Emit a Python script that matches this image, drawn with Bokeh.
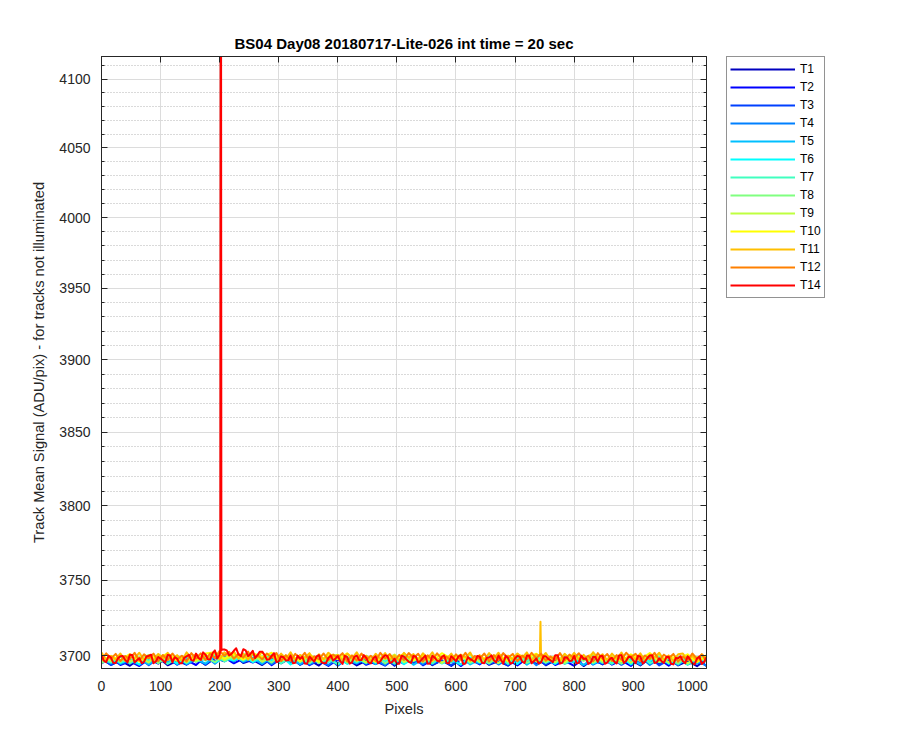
from bokeh.plotting import figure
from bokeh.layouts import row
from bokeh.models import (Range1d, FixedTicker, LinearAxis, LogAxis, Legend, LegendItem,
                          PrintfTickFormatter, CustomJSTickFormatter)
from bokeh.embed import file_html
from bokeh.resources import INLINE

title_text = "BS04 Day08 20180717-Lite-026 int time = 20 sec"
x_label = "Pixels"
y_label = "Track Mean Signal (ADU/pix) - for tracks not illuminated"
x_ticks = [0, 100, 200, 300, 400, 500, 600, 700, 800, 900, 1000]
y_ticks = [3700, 3750, 3800, 3850, 3900, 3950, 4000, 4050, 4100]
y_minor_ticks = [v for v in range(3700, 4120, 10) if v % 50 != 0]

track_names = ["T1", "T2", "T3", "T4", "T5", "T6", "T7", "T8", "T9", "T10", "T11", "T12", "T14"]
track_colors = ["#0000bf", "#0000ff", "#0040ff", "#0080ff", "#00bfff", "#00ffff", "#40ffbf",
                "#80ff80", "#bfff40", "#ffff00", "#ffbf00", "#ff8000", "#ff0000"]

x_fine = list(range(0, 1025, 8))
x_mid = list(range(4, 1021, 8))
x_coarse = list(range(0, 1025, 16))

t1 = [3698.4, 3693.9, 3696.9, 3693.3, 3697.8, 3695.4, 3698.7, 3693.6, 3696.5, 3694.1,
      3698.5, 3693.9, 3698.3, 3696.2, 3700.0, 3695.1, 3697.2, 3693.8, 3698.1, 3694.9,
      3698.5, 3694.0, 3697.0, 3693.4, 3698.8, 3695.1, 3697.5, 3693.5, 3696.7, 3694.4,
      3698.2, 3693.3, 3697.9, 3695.6, 3698.4, 3693.7, 3696.8, 3693.2, 3697.4, 3695.0,
      3698.7, 3693.9, 3696.4, 3693.4, 3698.0, 3694.6, 3698.9, 3693.6, 3697.1, 3695.3,
      3698.3, 3693.1, 3697.6, 3694.2, 3698.6, 3695.7, 3697.2, 3693.5, 3698.1, 3694.8,
      3698.5, 3693.5, 3696.3, 3693.0, 3697.6]
t2 = [3694.9, 3698.6, 3693.8, 3696.2, 3693.1, 3697.7, 3694.7, 3698.5, 3694.0, 3697.0,
      3693.8, 3699.5, 3696.1, 3698.8, 3694.9, 3698.0, 3695.4, 3698.9, 3693.7, 3698.1,
      3695.6, 3698.4, 3693.7, 3696.8, 3693.2, 3697.4, 3695.0, 3698.7, 3693.9, 3696.4,
      3693.4, 3698.0, 3694.6, 3698.9, 3693.6, 3697.1, 3695.3, 3698.3, 3693.1, 3697.6,
      3694.2, 3698.6, 3695.7, 3697.2, 3693.5, 3698.1, 3694.8, 3698.8, 3693.8, 3696.6,
      3693.3, 3697.9, 3694.5, 3698.4, 3694.0, 3696.9, 3693.2, 3698.5, 3695.2, 3697.7,
      3693.4, 3697.9, 3694.6, 3698.6, 3693.1]
t3 = [3697.8, 3693.8, 3697.0, 3694.7, 3698.5, 3693.6, 3698.2, 3695.9, 3698.7, 3694.0,
      3697.5, 3694.2, 3698.7, 3696.6, 3700.4, 3695.5, 3697.7, 3694.4, 3698.7, 3695.1,
      3699.2, 3693.9, 3697.4, 3695.6, 3698.6, 3693.4, 3697.9, 3694.5, 3698.9, 3696.0,
      3697.5, 3693.8, 3698.4, 3695.1, 3699.1, 3694.1, 3696.9, 3693.6, 3698.2, 3694.8,
      3698.7, 3694.3, 3697.2, 3693.5, 3698.8, 3695.5, 3698.0, 3694.0, 3698.5, 3695.2,
      3699.2, 3693.7, 3696.6, 3694.6, 3698.3, 3693.9, 3697.7, 3695.8, 3699.0, 3693.5,
      3697.0, 3693.9, 3698.3, 3694.7, 3698.6]
t4 = [3695.5, 3699.2, 3694.4, 3696.9, 3693.9, 3698.5, 3695.1, 3699.4, 3694.1, 3697.6,
      3696.2, 3699.5, 3694.6, 3699.4, 3696.1, 3700.4, 3697.2, 3698.4, 3694.4, 3698.8,
      3695.3, 3699.3, 3694.3, 3697.1, 3693.8, 3698.4, 3695.0, 3698.9, 3694.5, 3697.4,
      3693.7, 3699.0, 3695.7, 3698.2, 3694.2, 3698.7, 3695.4, 3699.4, 3693.9, 3696.8,
      3694.8, 3698.5, 3694.1, 3697.9, 3696.0, 3699.2, 3693.7, 3697.5, 3694.4, 3698.8,
      3695.2, 3699.1, 3694.0, 3697.2, 3694.6, 3698.6, 3695.9, 3699.3, 3693.8, 3698.0,
      3695.2, 3698.6, 3694.0, 3696.6, 3693.3]
t5 = [3698.3, 3694.9, 3699.3, 3696.4, 3697.9, 3694.2, 3698.8, 3695.5, 3699.5, 3694.5,
      3697.7, 3694.7, 3699.6, 3696.5, 3700.5, 3696.0, 3698.6, 3694.6, 3699.6, 3696.1,
      3698.4, 3694.4, 3698.9, 3695.6, 3699.6, 3694.1, 3697.0, 3695.0, 3698.7, 3694.3,
      3698.1, 3696.2, 3699.4, 3693.9, 3697.7, 3694.6, 3699.0, 3695.4, 3699.3, 3694.2,
      3697.4, 3694.8, 3698.8, 3696.1, 3699.5, 3694.0, 3698.2, 3695.7, 3699.1, 3694.5,
      3697.1, 3693.8, 3698.5, 3695.1, 3699.2, 3694.7, 3697.9, 3694.1, 3699.6, 3695.8,
      3698.0, 3694.0, 3698.4, 3695.0, 3699.1]
t6 = [3695.5, 3699.4, 3695.0, 3697.9, 3694.2, 3699.5, 3696.2, 3698.7, 3694.7, 3699.2,
      3696.3, 3700.6, 3695.4, 3698.6, 3696.7, 3700.3, 3695.6, 3699.1, 3696.9, 3699.9,
      3694.2, 3698.0, 3694.9, 3699.3, 3695.7, 3699.6, 3694.5, 3697.7, 3695.1, 3699.1,
      3696.4, 3699.8, 3694.3, 3698.5, 3696.0, 3699.4, 3694.8, 3697.4, 3694.1, 3698.8,
      3695.4, 3699.5, 3695.0, 3698.2, 3694.4, 3699.9, 3696.1, 3698.6, 3694.6, 3699.0,
      3695.6, 3699.7, 3694.7, 3697.8, 3695.2, 3699.2, 3694.2, 3698.3, 3696.3, 3699.6,
      3694.6, 3697.8, 3694.2, 3698.6, 3699.1]
t7 = [3697.6, 3695.6, 3699.3, 3694.9, 3698.7, 3696.8, 3700.0, 3694.5, 3698.3, 3695.2,
      3700.0, 3696.7, 3700.9, 3696.1, 3699.4, 3696.7, 3700.4, 3697.4, 3700.5, 3694.8,
      3698.8, 3696.3, 3699.7, 3695.1, 3697.7, 3694.4, 3699.1, 3695.7, 3699.8, 3695.3,
      3698.5, 3694.7, 3700.2, 3696.4, 3698.9, 3694.9, 3699.3, 3695.9, 3700.0, 3695.0,
      3698.1, 3695.5, 3699.5, 3694.5, 3698.6, 3696.6, 3699.9, 3695.2, 3698.4, 3694.8,
      3699.2, 3699.7, 3695.2, 3698.2, 3694.6, 3699.1, 3696.7, 3700.0, 3694.9, 3697.8,
      3695.1, 3699.1, 3694.2, 3698.3, 3695.9]
t8 = [3695.1, 3698.3, 3695.7, 3699.7, 3697.0, 3700.4, 3694.9, 3699.1, 3696.6, 3700.0,
      3695.8, 3698.7, 3695.7, 3700.7, 3697.4, 3701.4, 3696.6, 3699.5, 3695.4, 3700.7,
      3696.7, 3699.2, 3695.2, 3699.6, 3696.2, 3700.3, 3695.3, 3698.4, 3695.8, 3699.8,
      3694.8, 3698.9, 3696.9, 3700.2, 3695.5, 3698.7, 3695.1, 3699.5, 3700.0, 3695.5,
      3698.5, 3694.9, 3699.4, 3697.0, 3700.3, 3695.2, 3698.1, 3695.7, 3699.7, 3694.8,
      3698.9, 3696.5, 3700.2, 3695.4, 3697.8, 3694.7, 3699.3, 3696.3, 3700.1, 3695.6,
      3698.3, 3694.7, 3700.1, 3696.4, 3698.8]
t9 = [3699.8, 3696.4, 3700.5, 3696.0, 3699.2, 3695.4, 3700.9, 3697.1, 3699.6, 3695.6,
      3700.4, 3697.3, 3701.7, 3697.0, 3700.2, 3697.5, 3701.2, 3695.9, 3699.7, 3697.5,
      3700.6, 3695.9, 3699.1, 3695.5, 3699.9, 3700.4, 3695.9, 3698.9, 3695.3, 3699.8,
      3697.4, 3700.7, 3695.6, 3698.5, 3696.1, 3700.1, 3695.2, 3699.3, 3696.9, 3700.6,
      3695.8, 3698.2, 3695.1, 3699.7, 3696.7, 3700.5, 3696.0, 3699.0, 3695.4, 3700.8,
      3697.1, 3699.5, 3695.5, 3698.7, 3696.4, 3700.2, 3695.3, 3699.9, 3697.6, 3700.4,
      3695.4, 3698.5, 3694.9, 3699.1, 3696.7]
t10 = [3696.5, 3699.6, 3697.0, 3701.0, 3696.0, 3700.1, 3698.1, 3701.4, 3696.7, 3699.9,
       3696.7, 3701.4, 3702.2, 3698.0, 3701.1, 3697.4, 3701.6, 3698.9, 3701.9, 3696.6,
       3699.3, 3696.9, 3700.9, 3696.0, 3700.1, 3697.7, 3701.4, 3696.6, 3699.0, 3695.9,
       3700.5, 3697.5, 3701.3, 3696.8, 3699.8, 3696.2, 3701.6, 3697.9, 3700.3, 3696.3,
       3699.5, 3697.2, 3701.0, 3696.1, 3700.7, 3698.4, 3701.2, 3696.5, 3699.6, 3696.0,
       3700.2, 3697.8, 3701.5, 3696.7, 3699.2, 3696.2, 3700.8, 3697.4, 3701.7, 3696.4,
       3699.6, 3697.8, 3700.8, 3695.6, 3700.1]
t11 = [3702.0, 3696.9, 3699.8, 3697.4, 3701.4, 3696.5, 3700.6, 3698.2, 3701.9, 3697.1,
       3699.5, 3696.4, 3701.0, 3698.0, 3701.8, 3697.3, 3700.3, 3696.7, 3702.1, 3698.4,
       3701.0, 3697.2, 3700.5, 3698.4, 3702.3, 3697.5, 3702.2, 3699.9, 3702.7, 3698.0,
       3701.0, 3697.3, 3701.4, 3698.9, 3702.5, 3697.6, 3699.9, 3696.8, 3701.3, 3697.9,
       3702.2, 3696.9, 3700.4, 3698.6, 3701.6, 3696.4, 3700.9, 3697.5, 3701.9, 3699.0,
       3700.5, 3696.8, 3701.4, 3698.1, 3702.1, 3697.1, 3699.9, 3696.6, 3701.2, 3697.8,
       3701.7, 3697.3, 3700.2, 3696.5, 3701.8, 3698.5, 3701.0, 3697.0, 3701.5, 3698.2,
       3702.2, 3696.7, 3699.6, 3697.6, 3701.3, 3696.9, 3700.7, 3698.8, 3702.0, 3696.5,
       3700.3, 3697.2, 3701.6, 3698.0, 3701.9, 3696.8, 3700.0, 3697.4, 3701.4, 3698.7,
       3702.1, 3696.6, 3700.8, 3698.3, 3701.7, 3697.1, 3699.7, 3696.4, 3701.1, 3697.7,
       3701.8, 3697.3, 3700.5, 3696.7, 3702.2, 3698.4, 3700.9, 3696.9, 3701.3, 3697.9,
       3702.0, 3697.0, 3700.1, 3697.5, 3701.5, 3696.5, 3700.6, 3698.6, 3701.9, 3696.9,
       3700.1, 3696.5, 3700.9, 3701.4, 3696.9, 3699.9, 3696.3, 3700.8, 3698.4]
t12 = [3697.1, 3701.5, 3697.9, 3701.1, 3696.4, 3699.7, 3697.7, 3701.8, 3696.8, 3700.8,
       3698.2, 3701.3, 3696.3, 3700.4, 3697.0, 3701.4, 3697.4, 3699.9, 3696.1, 3701.6,
       3698.1, 3701.5, 3697.1, 3701.4, 3698.2, 3703.1, 3699.9, 3702.5, 3697.9, 3701.2,
       3698.6, 3702.7, 3697.1, 3700.4, 3697.5, 3701.4, 3698.6, 3701.7, 3696.4, 3700.3,
       3696.7, 3701.1, 3698.0, 3701.8, 3696.3, 3699.5, 3697.6, 3701.4, 3697.0, 3700.7,
       3698.7, 3701.6, 3696.1, 3700.1, 3696.8, 3701.3, 3697.3, 3699.8, 3696.5, 3701.8,
       3698.1, 3701.0, 3696.6, 3700.5, 3697.1, 3701.7, 3698.4, 3701.2, 3696.2, 3700.2,
       3696.9, 3701.5, 3697.8, 3699.3, 3696.4, 3700.8, 3697.4, 3701.9, 3696.7, 3699.7,
       3697.9, 3701.4, 3696.1, 3700.4, 3697.0, 3701.6, 3698.6, 3701.1, 3696.3, 3700.0,
       3697.6, 3701.8, 3698.2, 3701.3, 3696.6, 3699.4, 3697.1, 3701.7, 3696.8, 3700.6,
       3698.3, 3701.5, 3697.5, 3699.9, 3696.2, 3701.6, 3698.0, 3701.0, 3696.5, 3700.3,
       3697.3, 3701.9, 3698.8, 3701.2, 3696.4, 3700.1, 3697.7, 3701.8, 3696.9, 3700.6,
       3698.2, 3701.1, 3696.0, 3699.3, 3696.9, 3701.4, 3697.8, 3700.8, 3696.3]
t14 = [3700.2, 3695.7, 3698.7, 3695.1, 3699.6, 3697.2, 3700.5, 3695.4, 3698.3, 3695.9,
       3699.9, 3695.0, 3699.1, 3696.7, 3700.4, 3695.6, 3698.0, 3694.9, 3699.5, 3697.0,
       3701.3, 3697.2, 3700.6, 3697.4, 3703.4, 3700.6, 3704.0, 3700.1, 3703.2, 3700.7,
       3704.2, 3699.6, 3703.1, 3700.3, 3702.6, 3697.3, 3699.8, 3695.7, 3699.5, 3696.8,
       3700.1, 3695.3, 3697.8, 3694.8, 3699.4, 3696.0, 3700.3, 3695.0, 3698.5, 3696.7,
       3699.7, 3694.5, 3699.0, 3695.6, 3700.0, 3697.1, 3698.6, 3694.9, 3699.5, 3696.2,
       3700.2, 3695.2, 3698.0, 3694.7, 3699.3, 3695.9, 3699.8, 3695.4, 3698.3, 3694.6,
       3699.9, 3696.6, 3699.1, 3695.1, 3699.6, 3696.3, 3700.3, 3694.8, 3697.7, 3695.7,
       3699.4, 3695.0, 3698.8, 3696.9, 3700.1, 3694.6, 3698.4, 3695.3, 3699.7, 3696.1,
       3700.0, 3694.9, 3698.1, 3695.5, 3699.5, 3696.8, 3700.2, 3694.7, 3698.9, 3696.4,
       3699.8, 3695.2, 3697.8, 3694.5, 3699.2, 3695.8, 3699.9, 3695.4, 3698.6, 3694.8,
       3700.3, 3696.5, 3699.0, 3695.0, 3699.4, 3696.0, 3700.1, 3695.1, 3698.2, 3695.2,
       3699.2, 3694.2, 3698.3, 3696.3, 3699.6, 3694.9, 3698.1, 3694.5, 3698.9]
t14_mid = [3696.6, 3699.9, 3695.2, 3698.2, 3699.7, 3695.5, 3700.4, 3697.0, 3695.1, 3699.3,
           3700.6, 3696.1, 3698.0, 3695.4, 3700.1, 3698.9, 3695.0, 3698.5, 3700.5, 3696.6,
           3698.5, 3702.1, 3697.6, 3701.6, 3698.1, 3704.0, 3703.4, 3701.1, 3704.8, 3699.6,
           3703.4, 3701.1, 3698.3, 3702.6, 3700.4, 3697.5, 3701.6, 3696.2, 3698.9, 3696.9,
           3695.0, 3700.0, 3699.2, 3694.6, 3697.7, 3699.5, 3695.9, 3695.1, 3700.1, 3698.0,
           3696.3, 3699.8, 3694.7, 3699.1, 3697.0, 3700.3, 3695.4, 3698.2, 3694.9, 3698.8,
           3699.6, 3695.8, 3694.6, 3699.9, 3697.5, 3695.2, 3699.3, 3696.5, 3700.0, 3694.8,
           3698.6, 3696.1, 3700.2, 3695.0, 3698.0, 3699.4, 3694.5, 3698.9, 3696.8, 3699.7,
           3695.3, 3698.5, 3700.1, 3695.5, 3697.2, 3699.8, 3694.7, 3698.3, 3699.2, 3695.1,
           3699.9, 3696.4, 3694.8, 3699.5, 3697.8, 3695.7, 3700.3, 3695.2, 3698.7, 3696.6,
           3694.9, 3700.0, 3698.1, 3695.4, 3699.0, 3699.6, 3694.6, 3697.6, 3696.0, 3700.1,
           3695.1, 3699.3, 3696.9, 3699.8, 3694.8, 3698.4, 3700.2, 3695.6, 3696.3, 3699.0,
           3694.6, 3698.4, 3699.6, 3694.9, 3697.5, 3694.3, 3699.3, 3695.8]

t11_spike_x = [742, 743]
t11_spike_y = [3699.8, 3722.3]
t14_spike_x = [201, 202, 203]
t14_spike_y = [3703.0, 4420.0, 3703.5]


def merged(xs, ys, sx, sy):
    pts = sorted(list(zip(xs, ys)) + list(zip(sx, sy)))
    return [a for a, _ in pts], [b for _, b in pts]


t11_x, t11_y = merged(x_fine, t11, t11_spike_x, t11_spike_y)
t14_x, t14_y = merged(x_fine, t14, x_mid, t14_mid)
t14_x, t14_y = merged(t14_x, t14_y, t14_spike_x, t14_spike_y)

series = [
    (x_coarse, t1), (x_coarse, t2), (x_coarse, t3), (x_coarse, t4), (x_coarse, t5),
    (x_coarse, t6), (x_coarse, t7), (x_coarse, t8), (x_coarse, t9), (x_coarse, t10),
    (t11_x, t11_y), (x_fine, t12), (t14_x, t14_y),
]

FONT = "Liberation Sans"
AX = "#262626"

p = figure(width=716, height=734, x_range=Range1d(0, 1024), y_range=Range1d(3691.5, 4116.5),
           y_axis_type="log", output_backend="svg", toolbar_location=None,
           min_border_left=101, min_border_right=10, min_border_top=56, min_border_bottom=66,
           title=title_text)
p.background_fill_color = "white"
p.border_fill_color = "white"
p.outline_line_color = AX

x_ticker = FixedTicker(ticks=x_ticks)
y_ticker = FixedTicker(ticks=y_ticks, minor_ticks=y_minor_ticks)


def style_axis(ax, minor):
    ax.axis_line_color = AX
    ax.axis_line_width = 1
    ax.major_tick_line_color = AX
    ax.major_tick_in = 6
    ax.major_tick_out = 0
    if minor:
        ax.minor_tick_line_color = AX
        ax.minor_tick_in = 3
        ax.minor_tick_out = 0
    else:
        ax.minor_tick_line_color = None
    ax.major_label_text_font = FONT
    ax.major_label_text_font_size = "14px"
    ax.major_label_text_color = AX


xa = p.xaxis[0]
xa.ticker = x_ticker
style_axis(xa, False)
xa.major_label_standoff = 12
xa.axis_label = x_label
xa.axis_label_text_font = FONT
xa.axis_label_text_font_size = "11pt"
xa.axis_label_text_font_style = "normal"
xa.axis_label_text_color = AX
xa.axis_label_standoff = 7

ya = p.yaxis[0]
ya.ticker = y_ticker
ya.formatter = PrintfTickFormatter(format="%d")
style_axis(ya, True)
ya.major_label_standoff = 11
ya.axis_label = y_label
ya.axis_label_text_font = FONT
ya.axis_label_text_font_size = "11pt"
ya.axis_label_text_font_style = "normal"
ya.axis_label_text_color = AX
ya.axis_label_standoff = 9

blank = CustomJSTickFormatter(code="return ''")
top_axis = LinearAxis(ticker=x_ticker, formatter=blank)
style_axis(top_axis, False)
top_axis.major_label_text_font_size = "1px"
top_axis.major_label_standoff = 0
p.add_layout(top_axis, "above")

right_axis = LogAxis(ticker=y_ticker, formatter=blank)
style_axis(right_axis, True)
right_axis.major_label_text_font_size = "1px"
right_axis.major_label_standoff = 0
p.add_layout(right_axis, "right")

p.xgrid.ticker = x_ticker
p.ygrid.ticker = y_ticker
p.xgrid.grid_line_color = "#dcdcdc"
p.ygrid.grid_line_color = "#dcdcdc"
p.ygrid.minor_grid_line_color = "#b4b4b4"
p.ygrid.minor_grid_line_dash = "1 2"

p.title.align = "center"
p.title.text_font = FONT
p.title.text_font_size = "15px"
p.title.text_font_style = "bold"
p.title.text_color = "black"

for color, (xs, ys) in zip(track_colors, series):
    p.line(xs, ys, line_color=color, line_width=2, line_join="round")

# legend panel: a second figure to the right of the axes; its ranges keep the
# series lines outside its (empty) frame, so only the legend is seen
lp = figure(width=168, height=734, x_range=Range1d(0, 1), y_range=Range1d(0, 1),
            output_backend="svg", toolbar_location=None,
            min_border_left=0, min_border_right=0, min_border_top=0, min_border_bottom=0)
lp.axis.visible = False
lp.grid.visible = False
lp.outline_line_color = None
lp.background_fill_color = "white"
lp.border_fill_color = "white"

items = []
for name, color, (xs, ys) in zip(track_names, track_colors, series):
    r = lp.line(xs, ys, line_color=color, line_width=2)
    items.append(LegendItem(label=name, renderers=[r]))

legend = Legend(items=items, location=(10, 370))
legend.label_text_font = FONT
legend.label_text_font_size = "9pt"
legend.label_text_color = "black"
legend.glyph_width = 65
legend.glyph_height = 18
legend.label_height = 18
legend.spacing = 0
legend.padding = 3
legend.margin = 0
legend.label_standoff = 5
legend.border_line_color = AX
legend.border_line_width = 1
legend.background_fill_color = "white"
legend.background_fill_alpha = 1.0
lp.add_layout(legend)

layout = row(p, lp, spacing=0)
open("out.html", "w").write(file_html(layout, INLINE))
